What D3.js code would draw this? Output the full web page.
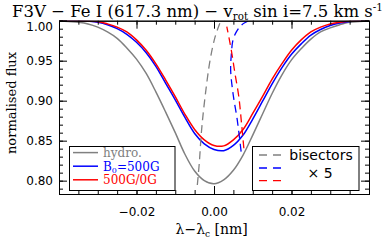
<!DOCTYPE html>
<html><head><meta charset="utf-8">
<script src="https://cdn.jsdelivr.net/npm/d3@7"></script>
<style>body{margin:0;background:#fff}svg{display:block}</style>
</head><body>
<svg id="c" width="387" height="246"></svg>
<script>
// ---- data ----
const wave = [-0.04,-0.0375,-0.035,-0.0325,-0.03,-0.0275,-0.025,-0.0225,-0.02,-0.0175,-0.015,-0.0125,-0.01,-0.0075,-0.005,-0.0025,0,
  0.0025,0.005,0.0075,0.01,0.0125,0.015,0.0175,0.02,0.0225,0.025,0.0275,0.03,0.0325,0.035,0.0375,0.04];
const fluxHydro = [1.000,0.999,0.998,0.996,0.992,0.986,0.978,0.966,0.952,0.934,0.911,0.886,0.860,0.833,0.812,0.800,0.796,
  0.801,0.813,0.832,0.857,0.883,0.909,0.932,0.951,0.965,0.977,0.986,0.991,0.995,0.998,0.999,1.000];
const fluxB500 = [1.000,1.000,1.000,0.9993,0.998,0.995,0.990,0.983,0.973,0.960,0.943,0.922,0.901,0.879,0.859,0.846,0.839,
  0.8375,0.844,0.857,0.877,0.899,0.921,0.941,0.958,0.971,0.982,0.989,0.994,0.997,0.999,1.000,1.000];
const flux500_0 = [1.000,1.000,1.000,0.9995,0.999,0.996,0.992,0.986,0.976,0.963,0.946,0.926,0.905,0.883,0.864,0.851,0.844,
  0.8435,0.851,0.864,0.884,0.905,0.927,0.946,0.963,0.976,0.986,0.992,0.996,0.998,0.9995,1.000,1.000];
// bisectors (x5): flux levels and positions
const bisHydroFlux = [0.7946,0.8218,0.8634,0.905,0.951,0.980,0.9968];
const bisHydroX    = [-0.0043,-0.0038,-0.0032,-0.0023,-0.0010,0.0003,0.0015];
const bisB500Flux  = [0.8363,0.8759,0.9093,0.9384,0.9593,0.9759,0.9863,0.9946,0.9996];
const bisB500X     = [0.0070,0.0060,0.0049,0.0043,0.0045,0.0049,0.0058,0.0071,0.0088];
const bis500_0Flux = [0.8405,0.8718,0.905,0.9343,0.9593,0.978,0.9925];
const bis500_0X    = [0.0077,0.0071,0.0064,0.0054,0.0046,0.0039,0.0033];
const xTicks = [-0.02,0.00,0.02];
const yTicks = [0.80,0.85,0.90,0.95,1.00];
const legend1 = ["hydro.","B0=500G","500G/0G"];
const colors = ["#808080","#0000ff","#ff0000"];

// ---- drawing ----
const svg = d3.select("#c");
const x = d3.scaleLinear().domain([-0.04,0.04]).range([59,369]);
const y = d3.scaleLinear().domain([0.7833,1.0]).range([194,20.7]);
const serif = "'DejaVu Serif', serif", sans = "'DejaVu Sans', sans-serif";

const line = d3.line().x(d=>x(d[0])).y(d=>y(d[1])).curve(d3.curveCatmullRom);
const plot = svg.append("g");
const clip = svg.append("clipPath").attr("id","clp").append("rect")
  .attr("x",59).attr("y",20.7).attr("width",310).attr("height",173.3);
plot.attr("clip-path","url(#clp)");

[fluxHydro,fluxB500,flux500_0].forEach((f,i)=>{
  plot.append("path").datum(wave.map((w,j)=>[w,f[j]])).attr("d",line)
    .attr("fill","none").attr("stroke",colors[i]).attr("stroke-width",1.5);
});
const bline = d3.line().x(d=>x(d[0])).y(d=>y(d[1])).curve(d3.curveCatmullRom);
[[bisHydroX,bisHydroFlux],[bisB500X,bisB500Flux],[bis500_0X,bis500_0Flux]].forEach((b,i)=>{
  plot.append("path").datum(b[0].map((v,j)=>[v,b[1][j]])).attr("d",bline)
    .attr("fill","none").attr("stroke",colors[i]).attr("stroke-width",1.3)
    .attr("stroke-dasharray","8,5");
});

// axes
function styleAxis(g){ g.select(".domain").attr("stroke","#000").attr("stroke-width",1);
  g.selectAll(".tick line").attr("stroke","#000"); g.selectAll("text").attr("fill","#000")
   .attr("font-family",sans).attr("font-size",12); }
const minorX = d3.range(-0.04,0.0401,0.005).map(v=>+v.toFixed(4));
const minorY = d3.range(0.79,1.0001,0.01).map(v=>+v.toFixed(3));
svg.append("g").attr("transform","translate(0,194)").call(d3.axisBottom(x).tickValues(minorX).tickSize(-4).tickFormat("")).call(styleAxis);
svg.append("g").attr("transform","translate(0,194)").call(d3.axisBottom(x).tickValues(xTicks).tickSize(-8).tickPadding(13).tickFormat(d3.format(".2f"))).call(styleAxis);
svg.append("g").attr("transform","translate(0,20.7)").call(d3.axisTop(x).tickValues(minorX).tickSize(-4).tickFormat("")).call(styleAxis);
svg.append("g").attr("transform","translate(0,20.7)").call(d3.axisTop(x).tickValues(xTicks).tickSize(-8).tickFormat("")).call(styleAxis);
svg.append("g").attr("transform","translate(59,0)").call(d3.axisLeft(y).tickValues(minorY).tickSize(-4).tickFormat("")).call(styleAxis);
const yl = svg.append("g").attr("transform","translate(59,0)").call(d3.axisLeft(y).tickValues(yTicks).tickSize(-8).tickPadding(6).tickFormat(d3.format(".2f"))).call(styleAxis);
yl.selectAll(".tick").filter(d=>d===1.0).select("text").attr("dy","0.8em");
svg.append("g").attr("transform","translate(369,0)").call(d3.axisRight(y).tickValues(minorY).tickSize(-4).tickFormat("")).call(styleAxis);
svg.append("g").attr("transform","translate(369,0)").call(d3.axisRight(y).tickValues(yTicks).tickSize(-8).tickFormat("")).call(styleAxis);

// title
const t = svg.append("text").attr("x",12).attr("y",17.3).attr("font-family",serif).attr("font-size",16).attr("fill","#000");
t.append("tspan").text("F3V \u2212 Fe I (617.3 nm) \u2212 v");
t.append("tspan").attr("font-size",10).attr("dy",3).text("rot");
t.append("tspan").attr("dy",-3).text(" sin i=7.5 km s");
t.append("tspan").attr("font-size",10).attr("dy",-6).text("-1");
// fit title width to 371px
const tw = t.node().getComputedTextLength();
const s = 371/tw;
t.attr("font-size",16*s); t.selectAll("tspan").each(function(){const fs=d3.select(this).attr("font-size"); if(fs) d3.select(this).attr("font-size",fs*s);});

// axis titles
svg.append("text").attr("transform","translate(16,103) rotate(-90)").attr("text-anchor","middle")
  .attr("font-family",serif).attr("font-size",13).text("normalised flux");
const xl = svg.append("text").attr("x",211.7).attr("y",233.5).attr("text-anchor","middle").attr("font-family",serif).attr("font-size",14);
xl.append("tspan").text("\u03bb\u2212\u03bb");
xl.append("tspan").attr("font-size",9).attr("dy",3).text("c");
xl.append("tspan").attr("dy",-3).text(" [nm]");

// legend 1
const L1 = svg.append("g");
L1.append("rect").attr("x",69.5).attr("y",146.5).attr("width",105.5).attr("height",44).attr("fill","#fff").attr("stroke","#000");
const ly1 = [152.6,166.2,179.8];
legend1.forEach((lab,i)=>{
  L1.append("line").attr("x1",73).attr("x2",98).attr("y1",ly1[i]).attr("y2",ly1[i]).attr("stroke",colors[i]).attr("stroke-width",1.5);
  const tx = L1.append("text").attr("x",103).attr("y",ly1[i]+4.3).attr("font-family",serif).attr("font-size",12).attr("fill",colors[i]);
  if(lab==="B0=500G"){ tx.append("tspan").text("B"); tx.append("tspan").attr("font-size",8).attr("dy",2).text("0"); tx.append("tspan").attr("dy",-2).text("=500G"); }
  else tx.text(lab);
});
// legend 2
const L2 = svg.append("g");
L2.append("rect").attr("x",252.5).attr("y",146.5).attr("width",106.5).attr("height",44).attr("fill","#fff").attr("stroke","#000");
const ly2 = [155,168,180.7];
colors.forEach((c,i)=>{
  L2.append("line").attr("x1",259).attr("x2",281).attr("y1",ly2[i]).attr("y2",ly2[i]).attr("stroke",c).attr("stroke-width",1.3).attr("stroke-dasharray","8,6");
});
L2.append("text").attr("x",321).attr("y",159.5).attr("text-anchor","middle").attr("font-family",sans).attr("font-size",14).text("bisectors");
L2.append("text").attr("x",320).attr("y",177.5).attr("text-anchor","middle").attr("font-family",sans).attr("font-size",14).text("\u00d7 5");
</script>
</body></html>
